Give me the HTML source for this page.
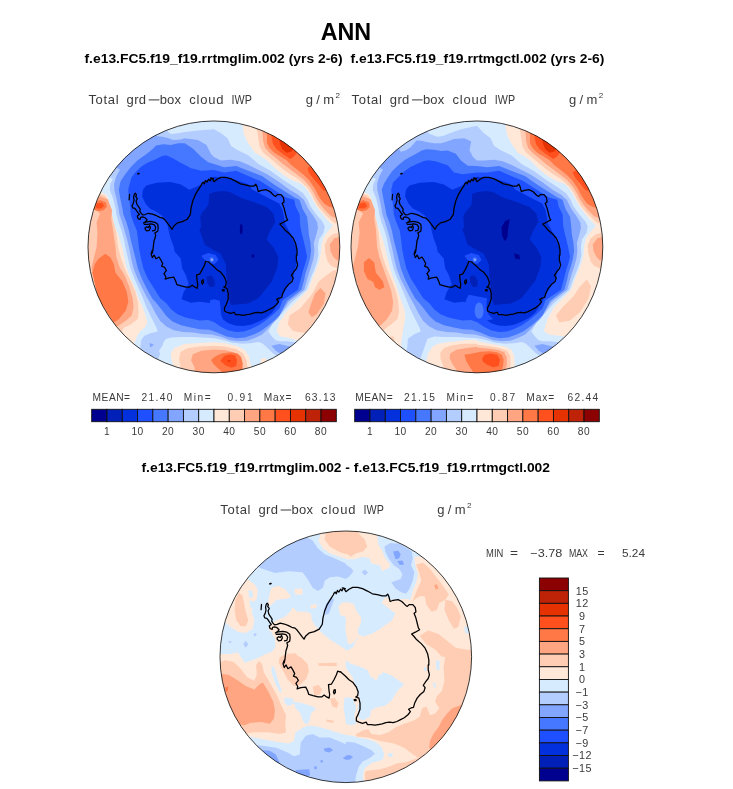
<!DOCTYPE html>
<html><head><meta charset="utf-8"><title>ANN</title>
<style>
html,body{margin:0;padding:0;background:#fff;}
body{width:733px;height:789px;position:relative;overflow:hidden;font-family:"Liberation Sans",sans-serif;}
svg text{font-family:"Liberation Sans",sans-serif;}
</style></head><body>
<svg style="position:absolute;left:86.30px;top:119.30px" width="255.80" height="255.80" viewBox="-5.822 -5.822 744.644 744.644">
<defs><clipPath id="cl"><circle cx="366.5" cy="366.5" r="366.5"/></clipPath></defs>
<g clip-path="url(#cl)">
<rect x="-10" y="-10" width="760" height="760" fill="#D7EBFF"/>
<polygon points="104.5,344.0 97.5,319.0 88.5,294.0 82.5,272.5 80.0,254.0 73.0,225.0 63.0,200.0 65.0,182.5 73.0,168.0 50.0,160.0 100.0,60.0 220.0,15.0 234.0,32.0 241.0,37.5 262.5,36.0 281.5,32.2 320.0,27.5 366.5,24.0 386.5,35.0 406.5,50.0 416.5,72.5 436.5,85.0 466.5,100.0 496.5,125.0 531.5,145.0 566.5,170.0 601.5,192.5 626.5,210.0 639.4,229.1 647.7,249.0 667.6,275.6 682.5,292.2 689.2,307.1 685.8,325.4 672.6,345.3 669.2,368.6 670.9,388.5 665.9,411.7 657.6,435.0 647.7,458.2 636.0,491.1 590.0,530.5 565.5,559.0 541.5,584.0 531.5,601.5 524.8,612.9 535.5,627.0 546.2,638.0 558.0,641.5 576.5,641.5 606.5,644.0 626.5,646.5 606.5,696.5 556.5,686.5 539.0,677.0 528.5,666.5 517.5,655.5 507.0,647.0 496.0,643.0 475.0,647.0 449.8,648.5 421.0,645.5 396.0,638.0 367.5,632.5 332.0,630.5 306.8,628.5 271.0,628.5 242.5,630.5 228.0,634.0 221.0,641.2 217.5,652.0 206.5,670.0 210.0,677.0 200.0,706.5 150.0,686.5 153.0,652.0 155.0,637.5 163.8,625.0 181.5,618.0 203.0,612.5 199.5,602.0 185.2,573.3 171.0,544.5 160.0,516.0 147.5,487.0 135.0,458.5 124.0,430.0 117.0,401.5 110.0,373.0" fill="#B4CDFF" />
<polygon points="113.5,344.0 106.5,319.0 99.0,294.0 91.5,272.5 88.0,250.0 82.5,225.0 76.5,200.0 76.0,182.5 82.5,161.0 93.0,141.5 70.0,130.0 110.0,60.0 175.0,30.0 203.5,45.0 212.5,45.0 230.5,48.5 248.5,55.5 269.5,53.5 281.5,50.0 320.0,55.0 345.0,70.0 357.5,95.0 366.5,105.0 386.5,115.0 416.5,112.5 441.5,117.5 466.5,127.5 496.5,142.5 521.5,155.0 556.5,177.5 586.5,200.0 611.5,215.0 628.4,229.1 641.0,255.7 657.6,278.9 667.6,295.5 669.2,312.1 664.3,332.0 657.6,355.3 659.3,378.5 656.0,401.8 649.3,425.0 642.7,444.9 637.7,461.5 629.4,491.1 584.0,526.5 553.4,573.5 535.5,591.5 519.5,609.2 507.0,621.8 489.0,630.5 464.0,639.5 439.0,641.5 414.0,638.0 389.0,629.0 360.5,621.5 332.0,620.0 306.8,616.0 278.0,614.5 249.5,609.0 228.0,598.5 210.2,582.2 196.0,559.0 183.5,534.0 171.0,512.5 158.0,487.0 144.0,458.5 133.0,430.0 126.0,401.5 120.5,373.0" fill="#82A5FF" />
<polygon points="534.0,654.0 556.5,649.0 586.5,656.5 601.5,666.5 576.5,686.5 546.5,669.0" fill="#82A5FF" />
<polygon points="179.0,646.5 192.5,651.5 181.0,659.0" fill="#82A5FF" />
<polygon points="124.0,344.0 119.0,319.0 111.5,294.0 103.0,272.5 100.0,254.0 94.0,225.5 89.5,200.0 95.0,175.0 109.0,154.0 123.0,136.0 144.5,114.5 169.5,96.5 187.5,82.5 198.0,71.5 219.5,68.0 241.0,70.0 262.5,64.5 281.5,64.5 305.0,80.0 330.0,105.0 350.0,120.0 366.5,125.0 396.5,135.0 431.5,131.0 466.5,145.0 506.5,160.0 541.5,185.0 581.5,210.0 601.5,222.5 615.8,229.1 624.4,255.7 637.7,278.9 641.0,305.5 642.7,328.7 647.7,355.3 649.3,378.5 646.0,401.8 639.4,425.0 632.7,444.9 629.4,461.5 621.1,491.1 579.0,524.0 558.0,564.5 546.2,577.0 525.0,595.0 503.5,611.0 482.0,621.8 457.0,630.5 432.0,632.5 403.5,627.0 378.2,616.5 353.0,608.0 324.5,606.5 299.5,601.5 271.0,594.8 246.0,584.0 228.0,568.0 214.0,548.5 199.5,530.5 186.5,516.0 170.5,487.0 156.5,458.5 145.5,430.0 138.5,401.5 131.5,373.0" fill="#4678FF" />
<polygon points="145.5,344.0 142.0,319.0 131.5,294.0 124.5,272.5 123.0,250.0 119.5,225.0 117.0,200.0 121.5,182.5 126.5,164.5 137.5,150.0 155.5,132.5 173.0,121.5 194.5,112.5 212.5,103.5 227.0,100.0 248.5,109.0 269.5,121.5 281.5,127.0 300.0,137.5 330.0,145.0 366.5,142.5 396.5,150.0 431.5,145.0 466.5,160.0 501.5,175.0 536.5,197.5 576.5,222.5 600.5,229.1 604.5,249.0 616.1,272.3 617.8,305.5 622.7,328.7 629.4,355.3 634.4,378.5 637.7,395.1 632.7,415.0 626.1,435.0 619.4,461.5 611.1,491.1 566.5,521.5 558.0,545.0 539.0,563.0 517.5,580.5 496.0,595.0 475.0,605.5 453.5,613.0 432.0,614.5 407.0,609.2 385.5,598.5 367.5,586.0 349.5,579.0 324.5,580.5 306.5,577.0 281.5,571.5 260.5,562.5 242.5,548.5 228.0,530.5 210.0,516.0 192.0,487.0 174.0,458.5 161.5,430.0 154.5,401.5 149.0,373.0" fill="#1E50FF" />
<polygon points="160.0,200.0 170.0,187.5 200.0,180.0 240.0,177.5 270.0,185.0 295.0,200.0 320.0,190.0 340.0,175.0 366.5,162.5 416.5,167.5 466.5,184.0 479.0,200.0 516.5,220.0 556.5,240.0 566.5,260.0 574.0,300.0 590.0,330.0 606.0,366.5 609.0,366.5 606.5,416.5 596.5,456.5 581.5,481.5 566.5,506.5 554.0,531.5 535.5,559.0 517.5,573.5 496.0,584.2 475.0,593.0 449.8,596.8 428.5,595.0 407.0,588.0 392.5,577.0 381.5,556.5 366.5,531.5 325.0,526.5 300.0,529.0 272.5,519.0 278.0,499.0 293.0,475.0 286.0,451.0 274.0,428.0 270.0,400.0 252.0,380.0 250.0,366.5 240.0,340.0 235.0,320.0 230.0,295.0 215.0,275.0 200.0,265.0 180.0,255.0 167.5,240.0 157.5,220.0" fill="#0030DC" />
<polygon points="355.0,521.7 367.5,519.2 383.6,523.5 385.4,541.3 387.2,562.8 392.6,577.0 381.8,582.5 367.5,582.5 356.8,577.0 355.0,548.5" fill="#1E50FF" />
<polygon points="353.0,212.0 372.0,206.0 396.0,204.0 415.0,207.5 434.0,218.0 448.0,225.0 480.0,235.0 520.0,250.0 540.0,270.0 545.0,295.0 530.0,320.0 520.0,345.0 540.0,368.0 554.0,396.0 551.0,426.0 536.0,466.0 516.0,491.0 496.0,516.0 466.0,531.0 416.0,536.0 411.0,516.0 404.0,466.0 401.0,416.0 386.0,386.0 366.0,376.0 340.0,360.0 329.0,328.0 324.0,316.0 329.0,309.0 328.0,294.0 327.0,278.0 331.5,268.0 341.0,256.0 350.6,244.5 352.0,228.0" fill="#0020B8" />
<polygon points="346.0,452.0 360.0,450.0 369.0,465.0 368.0,482.0 355.0,484.0 347.0,470.0" fill="#0020B8" />
<ellipse cx="446" cy="315" rx="4" ry="15" fill="#00008F"/>
<ellipse cx="480" cy="393" rx="4" ry="5" fill="#00008F"/>
<polygon points="330.0,392.0 350.0,384.0 372.0,390.0 380.0,405.0 368.0,416.0 345.0,412.0" fill="#1E50FF" />
<ellipse cx="360" cy="403" rx="6" ry="6.5" fill="#4678FF"/>
<ellipse cx="361" cy="404" rx="3.5" ry="4" fill="#82A5FF"/>
<polygon points="446.5,-10.0 451.5,22.5 454.0,40.0 466.5,65.0 485.3,92.7 499.6,99.9 521.0,114.2 542.5,135.6 563.9,153.5 585.4,167.8 606.8,178.5 621.3,182.8 635.2,196.7 646.4,213.4 654.7,230.1 665.8,249.5 682.5,271.8 699.2,291.2 713.1,305.1 770.0,306.0 770.0,-20.0" fill="#FFE8D7" />
<polygon points="488.9,17.6 493.2,31.9 496.0,53.4 499.6,74.8 510.3,92.7 528.2,107.0 549.6,124.9 571.1,142.8 592.5,157.0 614.0,171.3 638.0,193.9 649.1,210.6 657.5,227.3 668.6,246.7 685.3,266.2 702.0,282.9 717.2,296.8 738.1,301.0 770.0,200.0 770.0,-30.0" fill="#FFCDB4" />
<polygon points="506.7,24.8 508.5,40.9 510.3,60.5 515.7,78.4 528.2,92.7 546.1,107.0 567.5,124.9 589.0,141.0 610.4,157.0 628.3,171.3 647.8,193.9 657.5,210.6 665.8,227.3 676.9,244.0 690.8,260.6 707.5,277.3 732.5,287.1 770.0,200.0 770.0,-30.0" fill="#FFA582" />
<polygon points="521.0,31.9 521.0,46.2 521.0,64.1 528.2,78.4 542.5,92.7 560.4,103.4 578.2,114.2 592.5,128.5 610.4,142.8 628.3,157.0 642.6,171.3 660.3,196.7 668.6,213.4 676.9,227.3 688.1,241.2 702.0,249.5 727.0,255.1 770.0,150.0 770.0,-30.0" fill="#FF7846" />
<polygon points="533.6,39.1 535.3,53.4 538.9,67.7 549.6,82.0 567.5,96.3 589.0,110.6 599.7,103.4 608.6,90.9 628.3,74.8 578.2,31.9" fill="#FF501E" />
<polygon points="639.0,137.0 643.0,151.0 654.0,165.0 668.0,181.0 679.0,195.0 686.0,203.0 730.0,200.0 690.0,110.0" fill="#FF501E" />
<polygon points="556.8,53.4 558.6,65.9 565.7,82.0 578.2,92.7 592.5,89.1 596.1,82.0 610.4,67.7 578.2,46.2" fill="#E63200" />
<polygon points="763.9,303.8 712.4,305.5 697.5,322.1 685.8,338.7 679.2,361.9 677.5,385.2 672.6,408.4 664.3,431.7 654.3,454.9 641.0,491.1 601.5,531.5 576.5,556.5 556.5,586.5 549.0,611.5 559.0,626.5 586.5,631.5 611.5,639.0 626.5,646.5 746.5,646.5" fill="#FFE8D7" />
<polygon points="763.9,322.1 730.7,325.4 714.1,328.7 697.5,342.0 689.2,361.9 690.8,385.2 697.5,408.4 707.4,421.7 724.0,428.3 763.9,431.7" fill="#FFCDB4" />
<polygon points="763.9,337.0 730.7,338.7 717.4,340.3 704.1,358.6 705.8,378.5 714.1,395.1 724.0,405.1 763.9,408.4" fill="#FFA582" />
<polygon points="746.5,426.5 711.5,436.5 691.0,451.5 671.0,468.0 656.5,496.5 646.5,511.5 616.5,546.5 586.5,566.5 581.5,591.5 596.5,611.5 626.5,616.5 656.5,616.5 746.5,566.5" fill="#FFCDB4" />
<polygon points="676.5,486.5 691.5,501.5 686.5,531.5 666.5,561.5 651.5,571.5 641.5,556.5 651.5,526.5 661.5,501.5" fill="#FFA582" />
<polygon points="366.5,644.0 325.0,646.5 280.0,649.0 250.0,661.5 240.0,679.0 245.0,701.5 250.0,716.5 260.0,746.5 486.5,746.5 479.0,716.5 474.0,711.5 469.0,686.5 456.5,666.5 431.5,654.0 396.5,646.5 366.5,644.0" fill="#FFE8D7" />
<polygon points="366.5,654.0 325.0,656.5 290.0,661.5 270.0,671.5 265.0,691.5 270.0,716.5 275.0,746.5 466.5,746.5 464.0,716.5 461.5,696.5 451.5,676.5 431.5,664.0 396.5,656.5 366.5,654.0" fill="#FFCDB4" />
<polygon points="366.5,665.5 330.0,669.0 305.0,679.0 300.0,696.5 310.0,716.5 315.0,746.5 454.0,746.5 451.5,721.5 451.5,706.5 444.0,686.5 426.5,674.0 396.5,666.5 366.5,665.0" fill="#FFA582" />
<polygon points="358.5,695.0 371.0,684.5 389.0,677.0 414.0,673.5 435.5,677.0 446.0,688.0 449.8,705.8 448.0,720.0 446.5,746.5 396.5,746.5 389.0,729.0 378.2,720.0 364.0,705.8" fill="#FF7846" />
<polygon points="385.4,698.5 396.1,684.3 414.0,679.0 428.3,682.5 433.7,695.0 431.9,712.9 417.6,718.2 399.7,711.0" fill="#FF501E" />
<polygon points="406.5,696.5 414.5,696.5 414.5,700.5 406.5,700.5" fill="#E63200" />
<polygon points="504.0,691.5 516.5,689.0 521.5,701.5 511.5,711.5 501.5,711.5" fill="#FFE8D7" />
<polygon points="-20.0,200.0 37.5,207.5 50.0,212.5 57.5,220.0 61.0,235.0 63.5,247.5 68.5,266.5 73.0,286.0 78.0,305.0 85.0,324.0 92.5,345.0 101.0,373.0 106.5,401.5 113.5,430.0 124.0,458.5 136.5,487.0 147.5,516.0 156.5,535.0 167.5,566.5 172.5,586.5 165.0,601.5 150.0,614.0 142.5,626.5 137.5,641.5 125.0,666.5 -20.0,666.5" fill="#FFE8D7" />
<polygon points="-20.0,205.0 35.0,212.5 50.0,217.5 60.0,235.0 67.5,265.0 75.0,295.0 82.5,325.0 87.5,366.5 95.0,396.5 107.5,431.5 125.0,466.5 137.5,496.5 145.0,526.5 147.5,556.5 145.0,576.5 125.0,591.5 105.0,601.5 90.0,626.5 -20.0,626.5" fill="#FFCDB4" />
<polygon points="10.0,240.0 25.0,225.0 35.0,220.0 57.5,227.5 70.0,260.0 67.5,285.0 72.5,315.0 77.5,350.0 80.0,366.5 82.5,396.5 92.5,426.5 107.5,451.5 120.0,481.5 130.0,516.5 132.5,541.5 127.5,566.5 110.0,581.5 95.0,591.5 80.0,601.5 30.0,516.5 10.0,426.5 20.0,386.5 25.0,366.5 27.5,325.0 25.0,295.0 35.0,270.0 25.0,260.0" fill="#FFA582" />
<polygon points="50.0,386.5 65.0,396.5 75.0,416.5 80.0,441.5 100.0,466.5 112.5,496.5 117.5,526.5 110.0,551.5 90.0,576.5 75.0,586.5 30.0,516.5 12.5,441.5 20.0,416.5 30.0,401.5" fill="#FF7846" />
<polygon points="20.0,237.5 35.0,230.0 52.5,237.5 55.0,250.0 45.0,260.0 30.0,262.5 15.0,257.5" fill="#FF7846" />
<polygon points="25.0,240.0 40.0,237.5 47.5,247.5 37.5,255.0 22.5,254.0" fill="#FF501E" />
<polygon points="137.6,210.2 141.1,215.0 138.8,219.7 143.5,225.7 140.0,232.9 142.3,242.4 147.1,249.5 151.9,256.7 150.7,262.6 154.3,268.6 159.0,273.4 166.2,272.2 175.7,268.6 187.6,271.0 199.5,275.7 209.1,280.5 218.6,282.9 225.7,290.0 232.9,299.6 240.0,309.1 244.8,315.1 249.8,305.6 260.5,296.6 274.8,293.1 289.1,285.9 298.1,271.6 299.9,253.7 305.2,232.2 312.4,214.4 321.3,200.0 330.3,185.7 332.1,181.4 335.6,177.9 338.5,182.9 342.1,173.2 346.4,177.9 351.0,169.6 355.3,174.3 359.2,166.1 365.3,167.9 356.2,166.1 361.5,167.9 366.9,176.8 375.8,169.6 386.6,164.3 400.9,164.3 415.2,167.9 429.5,175.0 443.8,182.9 458.1,185.7 472.4,189.3 483.2,189.3 488.5,183.9 492.1,191.1 495.7,205.4 504.6,201.8 518.9,200.0 529.7,205.4 540.4,216.1 545.8,219.7 551.1,214.4 561.9,214.4 569.0,223.3 570.8,235.8 565.4,239.4 570.8,253.7 574.4,268.0 578.0,282.3 581.5,287.7 569.0,294.8 558.3,300.2 565.4,307.4 572.6,316.3 586.9,328.8 597.6,341.4 604.8,357.5 608.4,375.3 608.4,390.7 606.6,390.4 606.6,404.7 610.2,419.0 606.6,429.8 599.4,438.7 592.3,449.4 597.6,456.6 594.1,467.3 583.3,476.3 574.4,487.0 567.2,501.3 563.7,513.8 556.5,515.6 549.3,519.2 554.7,526.4 547.6,535.3 536.8,544.2 526.1,549.6 515.4,555.0 504.6,558.5 493.9,556.8 483.2,558.5 472.4,562.1 461.7,563.9 451.0,565.7 440.2,563.9 429.5,563.9 425.9,556.8 415.2,560.3 404.5,556.8 397.3,553.2 397.3,544.2 402.7,533.5 408.0,519.2 408.0,501.3 404.5,487.0 395.5,483.4 400.9,479.8 402.7,469.1 397.3,454.8 386.6,440.5 375.8,433.3 365.1,422.6 350.8,410.1 353.5,411.9 342.8,408.3 339.2,419.0 332.1,433.3 324.9,445.9 316.0,447.6 317.7,465.5 319.5,476.3 317.7,487.0 310.6,483.4 303.4,478.1 296.3,483.4 285.5,483.4 271.2,479.8 258.7,476.3 255.1,465.5 249.8,454.8 235.5,456.6 224.7,460.2 226.5,453.0 221.2,444.1 228.3,435.1 222.9,426.2 214.0,422.6 217.6,415.5 212.2,404.7 206.8,395.8 197.9,401.1 192.5,390.4 187.2,397.6 183.6,386.8 187.2,376.1 187.2,384.3 189.0,375.3 190.7,361.0 192.5,346.7 193.6,345.6 197.1,332.9 194.8,325.8 203.1,321.0 204.3,311.5 203.1,300.8 194.8,294.8 182.8,292.4 170.9,293.6 161.4,297.2 168.5,292.4 172.1,287.7 166.2,281.7 159.0,279.3 153.1,280.5 151.9,286.5 145.9,284.1 143.5,276.9 149.5,272.2 144.7,266.2 140.0,259.1 136.4,254.3 130.4,253.1 128.0,247.1 131.6,240.0 134.0,230.5 132.8,220.9 135.2,212.6" fill="none" stroke="#000" stroke-width="3.7" stroke-linejoin="round"/>
<polyline points="120.9,213.8 119.7,229.3" fill="none" stroke="#000" stroke-width="3.7" stroke-linecap="round" stroke-linejoin="round"/>
<ellipse cx="147" cy="153.5" rx="4.2" ry="2.6" fill="#000" transform="rotate(-15 147 153.5)"/>
<polyline points="163.8,300.8 173.3,300.8 182.8,299.6 192.4,301.9 197.1,309.1 194.8,318.6 187.6,319.8" fill="none" stroke="#000" stroke-width="3.7" stroke-linecap="round" stroke-linejoin="round"/>
<polyline points="166.2,311.5 170.9,307.9 175.7,310.3 179.3,304.3 181.7,311.5 178.1,318.6 170.9,319.8 166.6,315.1 166.2,311.5" fill="none" stroke="#000" stroke-width="3.7" stroke-linecap="round" stroke-linejoin="round"/>
<polyline points="332.1,463.7 335.6,462.0 336.3,469.8 332.8,474.5 330.6,469.8 332.1,463.7" fill="none" stroke="#000" stroke-width="3.7" stroke-linecap="round" stroke-linejoin="round"/>
<polyline points="390.9,491.3 395.9,490.6 396.6,494.2 391.6,494.2" fill="none" stroke="#000" stroke-width="3.7" stroke-linecap="round" stroke-linejoin="round"/>
</g>
<circle cx="366.5" cy="366.5" r="366.5" fill="none" stroke="#111" stroke-width="2.4"/>
</svg>
<svg style="position:absolute;left:349.30px;top:119.30px" width="255.80" height="255.80" viewBox="-5.822 -5.822 744.644 744.644">
<defs><clipPath id="cr"><circle cx="366.5" cy="366.5" r="366.5"/></clipPath></defs>
<g clip-path="url(#cr)">
<rect x="-10" y="-10" width="760" height="760" fill="#D7EBFF"/>
<polygon points="104.5,344.0 97.5,319.0 88.5,294.0 82.5,272.5 80.0,254.0 73.0,225.0 63.0,200.0 65.0,182.5 73.0,168.0 50.0,160.0 100.0,60.0 215.0,20.0 226.8,36.5 237.5,41.0 251.8,45.5 269.7,43.0 281.5,38.0 320.0,24.0 366.5,14.0 386.5,35.0 406.5,50.0 416.5,72.5 436.5,85.0 466.5,100.0 496.5,125.0 531.5,145.0 566.5,170.0 601.5,192.5 626.5,210.0 639.4,229.1 647.7,249.0 667.6,275.6 682.5,292.2 689.2,307.1 685.8,325.4 672.6,345.3 669.2,368.6 670.9,388.5 665.9,411.7 657.6,435.0 647.7,458.2 636.0,491.1 590.0,530.5 565.5,559.0 541.5,584.0 531.5,601.5 524.8,612.9 535.5,627.0 546.2,638.0 558.0,641.5 576.5,641.5 606.5,644.0 626.5,646.5 606.5,696.5 556.5,686.5 539.0,677.0 528.5,666.5 517.5,655.5 507.0,647.0 496.0,643.0 475.0,647.0 449.8,648.5 421.0,645.5 396.0,638.0 367.5,632.5 332.0,630.5 306.8,628.5 271.0,628.5 242.5,627.0 222.8,634.0 217.4,648.4 210.2,669.9 200.0,696.5 160.0,681.5 163.8,659.0 165.5,634.0 185.2,619.8 203.0,612.5 199.5,602.0 185.2,573.3 171.0,544.5 160.0,516.0 147.5,487.0 135.0,458.5 124.0,430.0 117.0,401.5 110.0,373.0" fill="#B4CDFF" />
<polygon points="113.5,344.0 106.5,319.0 99.0,294.0 91.5,272.5 88.0,250.0 82.5,225.0 76.5,200.0 76.0,182.5 82.5,161.0 93.0,141.5 70.0,130.0 115.0,85.0 141.0,82.3 144.5,89.5 159.0,86.0 173.0,77.0 184.0,64.5 191.0,56.5 205.5,57.2 219.5,60.9 241.0,64.5 262.5,64.5 281.5,59.0 300.0,52.5 330.0,50.0 350.0,60.0 345.0,85.0 355.0,105.0 366.5,115.0 386.5,115.0 416.5,112.5 441.5,117.5 466.5,127.5 496.5,142.5 521.5,155.0 556.5,177.5 586.5,200.0 611.5,215.0 628.4,229.1 641.0,255.7 657.6,278.9 667.6,295.5 669.2,312.1 664.3,332.0 657.6,355.3 659.3,378.5 656.0,401.8 649.3,425.0 642.7,444.9 637.7,461.5 629.4,491.1 584.0,526.5 553.4,573.5 535.5,591.5 519.5,609.2 507.0,621.8 489.0,630.5 464.0,639.5 439.0,641.5 414.0,638.0 389.0,629.0 360.5,621.5 332.0,620.0 306.8,616.0 278.0,614.5 249.5,609.0 228.0,598.5 210.2,582.2 196.0,559.0 183.5,534.0 171.0,512.5 158.0,487.0 144.0,458.5 133.0,430.0 126.0,401.5 120.5,373.0" fill="#82A5FF" />
<polygon points="534.0,654.0 556.5,649.0 586.5,656.5 601.5,666.5 576.5,686.5 546.5,669.0" fill="#82A5FF" />
<polygon points="124.0,344.0 119.0,319.0 111.5,294.0 103.0,272.5 100.0,254.0 94.0,225.5 89.5,200.0 96.0,182.5 107.0,164.5 119.5,146.5 137.5,128.8 155.5,114.5 173.0,103.8 191.0,94.8 205.5,85.8 219.5,82.3 241.0,84.0 262.5,87.5 281.5,85.8 305.0,95.0 320.0,115.0 340.0,130.0 366.5,131.0 396.5,135.0 431.5,131.0 466.5,145.0 506.5,160.0 541.5,185.0 581.5,210.0 601.5,222.5 615.8,229.1 624.4,255.7 637.7,278.9 641.0,305.5 642.7,328.7 647.7,355.3 649.3,378.5 646.0,401.8 639.4,425.0 632.7,444.9 629.4,461.5 621.1,491.1 579.0,524.0 558.0,564.5 546.2,577.0 525.0,595.0 503.5,611.0 482.0,621.8 457.0,630.5 432.0,632.5 403.5,627.0 378.2,616.5 353.0,608.0 324.5,606.5 299.5,601.5 271.0,594.8 246.0,584.0 228.0,568.0 214.0,548.5 199.5,530.5 186.5,516.0 170.5,487.0 156.5,458.5 145.5,430.0 138.5,401.5 131.5,373.0" fill="#4678FF" />
<polygon points="145.5,344.0 142.0,319.0 131.5,294.0 124.5,272.5 123.0,250.0 119.5,225.0 117.0,200.0 122.5,178.8 141.0,161.0 155.5,146.5 173.0,134.0 194.5,123.5 212.5,116.2 226.8,114.5 248.2,118.0 269.5,125.0 281.5,128.8 300.0,150.0 325.0,155.0 366.5,150.0 396.5,150.0 431.5,145.0 466.5,160.0 501.5,175.0 536.5,197.5 576.5,222.5 600.5,229.1 604.5,249.0 616.1,272.3 617.8,305.5 622.7,328.7 629.4,355.3 634.4,378.5 637.7,395.1 632.7,415.0 626.1,435.0 619.4,461.5 611.1,491.1 566.5,521.5 558.0,545.0 539.0,563.0 517.5,580.5 496.0,595.0 475.0,605.5 453.5,613.0 432.0,614.5 407.0,609.2 385.5,598.5 367.5,586.0 349.5,579.0 324.5,580.5 306.5,577.0 281.5,571.5 260.5,562.5 242.5,548.5 228.0,530.5 210.0,516.0 192.0,487.0 174.0,458.5 161.5,430.0 154.5,401.5 149.0,373.0" fill="#1E50FF" />
<polygon points="160.0,200.0 170.0,187.5 200.0,180.0 240.0,177.5 270.0,185.0 295.0,200.0 320.0,190.0 340.0,175.0 366.5,162.5 416.5,167.5 466.5,184.0 479.0,200.0 516.5,220.0 556.5,240.0 566.5,260.0 574.0,300.0 590.0,330.0 606.0,366.5 609.0,366.5 606.5,416.5 596.5,456.5 581.5,481.5 566.5,506.5 554.0,531.5 535.5,559.0 517.5,573.5 496.0,584.2 475.0,593.0 449.8,596.8 428.5,595.0 407.0,588.0 392.5,577.0 381.5,556.5 366.5,531.5 325.0,526.5 300.0,529.0 272.5,519.0 278.0,499.0 293.0,475.0 286.0,451.0 274.0,428.0 270.0,400.0 252.0,380.0 250.0,366.5 240.0,340.0 235.0,320.0 230.0,295.0 215.0,275.0 200.0,265.0 180.0,255.0 167.5,240.0 157.5,220.0" fill="#0030DC" />
<polygon points="355.0,521.7 367.5,519.2 383.6,523.5 385.4,541.3 387.2,562.8 392.6,577.0 381.8,582.5 367.5,582.5 356.8,577.0 355.0,548.5" fill="#1E50FF" />
<polygon points="353.0,212.0 372.0,206.0 396.0,204.0 415.0,207.5 434.0,218.0 448.0,225.0 480.0,235.0 520.0,250.0 540.0,270.0 545.0,295.0 530.0,320.0 520.0,345.0 540.0,368.0 554.0,396.0 551.0,426.0 536.0,466.0 516.0,491.0 496.0,516.0 466.0,531.0 416.0,536.0 411.0,516.0 404.0,466.0 401.0,416.0 386.0,386.0 366.0,376.0 340.0,360.0 329.0,328.0 324.0,316.0 329.0,309.0 328.0,294.0 327.0,278.0 331.5,268.0 341.0,256.0 350.6,244.5 352.0,228.0" fill="#0020B8" />
<polygon points="346.0,452.0 360.0,450.0 369.0,465.0 368.0,482.0 355.0,484.0 347.0,470.0" fill="#0020B8" />
<polygon points="440.0,335.0 438.0,310.0 448.0,292.0 462.0,285.0 458.0,310.0 455.0,340.0 448.0,350.0" fill="#00008F" />
<polygon points="475.0,385.0 490.0,390.0 492.0,403.0 478.0,400.0" fill="#00008F" />
<polygon points="330.0,392.0 350.0,384.0 372.0,390.0 380.0,405.0 368.0,416.0 345.0,412.0" fill="#1E50FF" />
<ellipse cx="360" cy="403" rx="6" ry="6.5" fill="#4678FF"/>
<ellipse cx="361" cy="404" rx="3.5" ry="4" fill="#82A5FF"/>
<polygon points="335.4,519.9 342.5,505.6 396.1,516.3 394.3,541.3 399.7,562.8 414.0,577.0 381.8,582.5 356.8,577.0 338.9,562.8 331.8,536.0" fill="#1E50FF" />
<ellipse cx="372.9" cy="552" rx="13" ry="24" fill="#4678FF"/>
<polygon points="446.5,-10.0 451.5,22.5 454.0,40.0 466.5,65.0 485.3,92.7 499.6,99.9 521.0,114.2 542.5,135.6 563.9,153.5 585.4,167.8 606.8,178.5 621.3,182.8 635.2,196.7 646.4,213.4 654.7,230.1 665.8,249.5 682.5,271.8 699.2,291.2 713.1,305.1 770.0,306.0 770.0,-20.0" fill="#FFE8D7" />
<polygon points="488.9,17.6 493.2,31.9 496.0,53.4 499.6,74.8 510.3,92.7 528.2,107.0 549.6,124.9 571.1,142.8 592.5,157.0 614.0,171.3 638.0,193.9 649.1,210.6 657.5,227.3 668.6,246.7 685.3,266.2 702.0,282.9 717.2,296.8 738.1,301.0 770.0,200.0 770.0,-30.0" fill="#FFCDB4" />
<polygon points="506.7,24.8 508.5,40.9 510.3,60.5 515.7,78.4 528.2,92.7 546.1,107.0 567.5,124.9 589.0,141.0 610.4,157.0 628.3,171.3 647.8,193.9 657.5,210.6 665.8,227.3 676.9,244.0 690.8,260.6 707.5,277.3 732.5,287.1 770.0,200.0 770.0,-30.0" fill="#FFA582" />
<polygon points="521.0,31.9 521.0,46.2 521.0,64.1 528.2,78.4 542.5,92.7 560.4,103.4 578.2,114.2 592.5,128.5 610.4,142.8 628.3,157.0 642.6,171.3 660.3,196.7 668.6,213.4 676.9,227.3 688.1,241.2 702.0,249.5 727.0,255.1 770.0,150.0 770.0,-30.0" fill="#FF7846" />
<polygon points="533.6,39.1 535.3,53.4 538.9,67.7 549.6,82.0 567.5,96.3 589.0,110.6 599.7,103.4 608.6,90.9 628.3,74.8 578.2,31.9" fill="#FF501E" />
<polygon points="645.0,150.0 654.0,167.0 668.0,183.0 679.0,197.0 686.0,203.0 730.0,200.0 690.0,120.0" fill="#FF501E" />
<polygon points="556.8,53.4 558.6,65.9 565.7,82.0 578.2,92.7 592.5,89.1 596.1,82.0 610.4,67.7 578.2,46.2" fill="#E63200" />
<polygon points="763.9,303.8 712.4,305.5 697.5,322.1 685.8,338.7 679.2,361.9 677.5,385.2 672.6,408.4 664.3,431.7 654.3,454.9 641.0,491.1 591.5,541.5 571.5,576.5 561.5,611.5 576.5,621.5 616.5,626.5 636.5,629.0 746.5,646.5" fill="#FFE8D7" />
<polygon points="763.9,322.1 730.7,325.4 714.1,328.7 697.5,342.0 689.2,361.9 690.8,385.2 697.5,408.4 707.4,421.7 724.0,428.3 763.9,431.7" fill="#FFCDB4" />
<polygon points="763.9,337.0 730.7,338.7 717.4,340.3 704.1,358.6 705.8,378.5 714.1,395.1 724.0,405.1 763.9,408.4" fill="#FFA582" />
<polygon points="686.5,461.5 699.0,481.5 691.5,516.5 666.5,556.5 636.5,581.5 606.5,586.5 596.5,566.5 616.5,541.5 646.5,511.5 666.5,481.5" fill="#FFCDB4" />
<polygon points="366.5,637.8 331.8,637.9 321.0,639.5 285.3,643.0 253.0,648.4 235.3,659.0 224.5,677.0 221.0,691.2 217.5,702.0 220.0,746.5 486.5,746.5 474.8,716.5 476.5,705.8 474.8,684.3 467.6,666.5 449.8,657.5 424.8,652.1 396.1,646.8 367.5,641.5" fill="#FFE8D7" />
<polygon points="366.5,648.5 331.8,648.5 324.5,648.4 292.5,653.8 271.0,660.9 260.3,673.4 260.3,691.2 267.5,709.0 275.0,746.5 466.5,746.5 462.2,720.0 464.0,709.4 464.0,684.3 453.4,668.2 431.9,661.0 403.3,655.8 367.5,651.5" fill="#FFCDB4" />
<polygon points="366.5,657.5 335.5,660.9 306.8,666.2 288.9,677.0 287.0,691.2 296.0,709.0 306.8,723.5 315.0,746.5 454.0,746.5 449.8,723.5 453.4,709.4 453.4,687.9 446.2,673.5 428.3,666.5 403.3,662.9 367.5,659.3" fill="#FFA582" />
<polygon points="330.0,680.8 349.6,677.2 378.2,671.8 403.3,670.0 424.8,673.5 439.0,680.8 444.4,695.0 442.6,712.9 439.0,723.5 436.5,746.5 360.0,746.5 353.2,727.2 346.0,716.5 335.4,698.5" fill="#FF7846" />
<polygon points="381.9,691.5 389.0,680.8 406.9,676.5 424.8,680.8 433.7,695.0 430.1,712.9 414.0,716.5 396.1,709.4 383.6,700.4" fill="#FF501E" />
<polygon points="-20.0,200.0 37.5,207.5 50.0,212.5 57.5,220.0 61.0,235.0 63.5,247.5 68.5,266.5 73.0,286.0 78.0,305.0 85.0,324.0 92.5,345.0 100.0,373.0 105.0,396.5 116.0,436.5 131.0,476.5 144.0,516.5 155.0,546.5 158.5,573.5 153.0,598.5 149.5,623.5 146.0,645.0 146.0,666.5 125.0,686.5 -20.0,666.5" fill="#FFE8D7" />
<polygon points="-20.0,205.0 35.0,212.5 50.0,217.5 60.0,235.0 67.5,265.0 75.0,295.0 80.0,325.0 85.0,366.5 92.5,396.5 105.0,431.5 120.0,466.5 131.0,496.5 137.5,526.5 140.0,556.5 135.0,576.5 117.5,591.5 100.0,604.0 85.0,626.5 -20.0,626.5" fill="#FFCDB4" />
<polygon points="112.5,629.0 122.5,626.5 127.5,639.0 117.5,646.5" fill="#FFCDB4" />
<polygon points="10.0,240.0 25.0,225.0 35.0,220.0 57.5,227.5 70.0,260.0 67.5,285.0 72.5,315.0 75.0,350.0 76.0,366.5 82.5,396.5 95.0,431.5 107.5,466.5 117.5,496.5 122.5,526.5 120.0,551.5 105.0,576.5 90.0,591.5 75.0,601.5 30.0,516.5 5.0,426.5 15.0,386.5 20.0,366.5 25.0,325.0 22.5,295.0 35.0,270.0 25.0,260.0" fill="#FFA582" />
<polygon points="37.5,411.5 52.5,399.0 67.5,411.5 72.5,441.5 92.5,466.5 97.5,484.0 82.5,491.5 70.0,484.0 65.0,469.0 47.5,459.0 37.5,436.5" fill="#FF7846" />
<polygon points="20.0,237.5 35.0,230.0 52.5,237.5 55.0,250.0 45.0,260.0 30.0,262.5 15.0,257.5" fill="#FF7846" />
<polygon points="25.0,240.0 40.0,237.5 47.5,247.5 37.5,255.0 22.5,254.0" fill="#FF501E" />
<polygon points="137.6,210.2 141.1,215.0 138.8,219.7 143.5,225.7 140.0,232.9 142.3,242.4 147.1,249.5 151.9,256.7 150.7,262.6 154.3,268.6 159.0,273.4 166.2,272.2 175.7,268.6 187.6,271.0 199.5,275.7 209.1,280.5 218.6,282.9 225.7,290.0 232.9,299.6 240.0,309.1 244.8,315.1 249.8,305.6 260.5,296.6 274.8,293.1 289.1,285.9 298.1,271.6 299.9,253.7 305.2,232.2 312.4,214.4 321.3,200.0 330.3,185.7 332.1,181.4 335.6,177.9 338.5,182.9 342.1,173.2 346.4,177.9 351.0,169.6 355.3,174.3 359.2,166.1 365.3,167.9 356.2,166.1 361.5,167.9 366.9,176.8 375.8,169.6 386.6,164.3 400.9,164.3 415.2,167.9 429.5,175.0 443.8,182.9 458.1,185.7 472.4,189.3 483.2,189.3 488.5,183.9 492.1,191.1 495.7,205.4 504.6,201.8 518.9,200.0 529.7,205.4 540.4,216.1 545.8,219.7 551.1,214.4 561.9,214.4 569.0,223.3 570.8,235.8 565.4,239.4 570.8,253.7 574.4,268.0 578.0,282.3 581.5,287.7 569.0,294.8 558.3,300.2 565.4,307.4 572.6,316.3 586.9,328.8 597.6,341.4 604.8,357.5 608.4,375.3 608.4,390.7 606.6,390.4 606.6,404.7 610.2,419.0 606.6,429.8 599.4,438.7 592.3,449.4 597.6,456.6 594.1,467.3 583.3,476.3 574.4,487.0 567.2,501.3 563.7,513.8 556.5,515.6 549.3,519.2 554.7,526.4 547.6,535.3 536.8,544.2 526.1,549.6 515.4,555.0 504.6,558.5 493.9,556.8 483.2,558.5 472.4,562.1 461.7,563.9 451.0,565.7 440.2,563.9 429.5,563.9 425.9,556.8 415.2,560.3 404.5,556.8 397.3,553.2 397.3,544.2 402.7,533.5 408.0,519.2 408.0,501.3 404.5,487.0 395.5,483.4 400.9,479.8 402.7,469.1 397.3,454.8 386.6,440.5 375.8,433.3 365.1,422.6 350.8,410.1 353.5,411.9 342.8,408.3 339.2,419.0 332.1,433.3 324.9,445.9 316.0,447.6 317.7,465.5 319.5,476.3 317.7,487.0 310.6,483.4 303.4,478.1 296.3,483.4 285.5,483.4 271.2,479.8 258.7,476.3 255.1,465.5 249.8,454.8 235.5,456.6 224.7,460.2 226.5,453.0 221.2,444.1 228.3,435.1 222.9,426.2 214.0,422.6 217.6,415.5 212.2,404.7 206.8,395.8 197.9,401.1 192.5,390.4 187.2,397.6 183.6,386.8 187.2,376.1 187.2,384.3 189.0,375.3 190.7,361.0 192.5,346.7 193.6,345.6 197.1,332.9 194.8,325.8 203.1,321.0 204.3,311.5 203.1,300.8 194.8,294.8 182.8,292.4 170.9,293.6 161.4,297.2 168.5,292.4 172.1,287.7 166.2,281.7 159.0,279.3 153.1,280.5 151.9,286.5 145.9,284.1 143.5,276.9 149.5,272.2 144.7,266.2 140.0,259.1 136.4,254.3 130.4,253.1 128.0,247.1 131.6,240.0 134.0,230.5 132.8,220.9 135.2,212.6" fill="none" stroke="#000" stroke-width="3.7" stroke-linejoin="round"/>
<polyline points="120.9,213.8 119.7,229.3" fill="none" stroke="#000" stroke-width="3.7" stroke-linecap="round" stroke-linejoin="round"/>
<ellipse cx="147" cy="153.5" rx="4.2" ry="2.6" fill="#000" transform="rotate(-15 147 153.5)"/>
<polyline points="163.8,300.8 173.3,300.8 182.8,299.6 192.4,301.9 197.1,309.1 194.8,318.6 187.6,319.8" fill="none" stroke="#000" stroke-width="3.7" stroke-linecap="round" stroke-linejoin="round"/>
<polyline points="166.2,311.5 170.9,307.9 175.7,310.3 179.3,304.3 181.7,311.5 178.1,318.6 170.9,319.8 166.6,315.1 166.2,311.5" fill="none" stroke="#000" stroke-width="3.7" stroke-linecap="round" stroke-linejoin="round"/>
<polyline points="332.1,463.7 335.6,462.0 336.3,469.8 332.8,474.5 330.6,469.8 332.1,463.7" fill="none" stroke="#000" stroke-width="3.7" stroke-linecap="round" stroke-linejoin="round"/>
<polyline points="390.9,491.3 395.9,490.6 396.6,494.2 391.6,494.2" fill="none" stroke="#000" stroke-width="3.7" stroke-linecap="round" stroke-linejoin="round"/>
</g>
<circle cx="366.5" cy="366.5" r="366.5" fill="none" stroke="#111" stroke-width="2.4"/>
</svg>
<svg style="position:absolute;left:217.60px;top:528.90px" width="255.60" height="255.60" viewBox="-5.827 -5.827 744.653 744.653">
<defs><clipPath id="cb"><circle cx="366.5" cy="366.5" r="366.5"/></clipPath></defs>
<g clip-path="url(#cb)">
<rect x="-10" y="-10" width="760" height="760" fill="#D7EBFF"/>
<polygon points="60.0,125.0 82.5,142.5 100.0,155.0 110.0,170.0 107.5,195.0 97.5,210.0 92.5,235.0 100.0,260.0 95.0,285.0 75.0,297.5 55.0,295.0 30.0,280.0 10.0,260.0 0.0,200.0" fill="#FFE8D7" />
<polygon points="82.5,172.5 95.0,175.0 96.0,192.5 85.0,195.0" fill="#D7EBFF" />
<polygon points="86.0,202.5 99.0,205.0 100.0,225.0 89.0,224.0" fill="#D7EBFF" />
<polygon points="150.0,165.0 170.0,160.0 190.0,170.0 207.5,192.5 195.0,197.5 165.0,200.0 150.0,215.0 140.0,220.0 142.5,190.0" fill="#FFE8D7" />
<polygon points="216.0,169.0 239.0,167.5 241.0,184.0 220.0,186.0" fill="#FFE8D7" />
<polygon points="262.5,216.0 282.5,212.5 280.0,224.0 265.0,226.0" fill="#FFE8D7" />
<polygon points="295.0,-5.0 287.5,30.0 300.0,50.0 320.0,65.0 350.0,75.0 366.5,80.0 366.5,82.5 391.5,82.5 416.5,75.0 436.5,80.0 441.5,95.0 466.5,100.0 471.5,117.5 491.5,107.5 496.5,100.0 479.0,75.0 471.5,55.0 461.5,40.0 459.0,20.0 456.5,-5.0" fill="#FFE8D7" />
<polygon points="-10.0,358.5 30.0,358.5 51.5,353.5 62.0,369.5 72.5,383.5 94.0,376.5 112.0,369.5 133.5,358.5 151.5,351.5 162.0,337.0 160.5,316.0 151.5,298.0 140.5,283.5 145.0,272.5 165.0,260.0 190.0,250.0 205.0,235.0 212.5,222.5 225.0,235.0 250.0,235.0 265.0,240.0 267.5,260.0 280.0,280.0 300.0,300.0 325.0,320.0 350.0,335.0 366.5,345.0 366.5,396.5 371.5,406.5 386.5,426.5 396.5,456.5 406.5,486.5 401.5,516.5 404.0,546.5 416.5,551.5 436.5,541.5 441.5,521.5 456.5,514.0 481.5,509.0 501.5,491.5 516.5,466.5 536.5,446.5 521.5,436.5 501.5,421.5 476.5,411.5 461.5,421.5 456.5,436.5 436.5,421.5 431.5,406.5 411.5,396.5 381.5,386.5 366.5,376.5 366.5,350.0 386.5,340.0 401.5,310.0 401.5,270.0 411.5,250.0 396.5,220.0 386.5,207.5 366.5,210.0 366.5,250.0 350.0,245.0 345.0,220.0 355.0,210.0 366.5,207.5 386.5,207.5 396.5,220.0 411.5,250.0 401.5,270.0 401.5,300.0 416.5,307.5 441.5,300.0 466.5,285.0 501.5,260.0 511.5,240.0 491.5,225.0 471.5,210.0 481.5,192.5 496.5,200.0 516.5,200.0 541.5,197.5 554.0,200.0 561.5,175.0 571.5,150.0 576.5,125.0 569.0,100.0 566.5,75.0 746.5,75.0 746.5,366.5 746.5,366.5 746.5,746.5 419.0,746.5 416.5,711.5 421.5,691.5 441.5,676.5 474.0,666.5 479.0,651.5 471.5,631.5 456.5,616.5 431.5,606.5 401.5,601.5 386.5,596.5 366.5,594.0 366.5,594.0 340.0,586.5 310.0,576.5 280.0,569.0 255.0,566.5 235.0,576.5 220.0,586.5 215.0,611.5 200.0,619.0 165.0,614.0 125.0,606.5 85.0,599.0 -10.0,586.5" fill="#FFE8D7" />
<polygon points="346.0,225.0 350.0,212.0 372.0,209.0 390.0,212.6 397.0,232.0 411.6,253.7 409.8,271.6 401.0,286.0 402.7,303.8 393.7,321.7 380.0,330.0 372.0,326.0 368.7,307.0 365.0,286.0 367.0,264.0 365.0,246.6 353.0,243.0" fill="#FFE8D7" />
<polygon points="366.5,484.0 386.5,486.5 396.5,511.5 391.5,541.5 396.5,561.5 381.5,566.5 366.5,561.5 366.5,556.5 360.0,516.5 362.5,486.5" fill="#D7EBFF" />
<polygon points="187.5,484.0 212.5,489.0 215.0,504.0 197.5,509.0 187.5,499.0" fill="#D7EBFF" />
<polygon points="215.0,496.5 240.0,501.5 265.0,509.0 280.0,516.5 265.0,531.5 260.0,556.5 250.0,564.0 240.0,551.5 235.0,531.5 220.0,516.5" fill="#D7EBFF" />
<polygon points="150.0,394.0 157.5,396.5 170.0,436.5 180.0,466.5 175.0,471.5 160.0,441.5 150.0,411.5" fill="#D7EBFF" />
<polygon points="489.0,646.5 504.0,647.5 501.5,659.0 490.5,657.5" fill="#D7EBFF" />
<polygon points="629.0,376.5 640.5,379.0 639.0,406.5 630.5,404.0" fill="#D7EBFF" />
<polygon points="621.5,441.5 629.0,442.5 627.5,456.5 622.5,455.5" fill="#D7EBFF" />
<polygon points="711.5,277.5 722.5,280.0 724.0,300.0 714.0,297.5" fill="#D7EBFF" />
<polygon points="594.0,396.5 601.5,397.5 600.5,409.0 594.5,407.5" fill="#D7EBFF" />
<polygon points="75.0,75.0 117.5,107.5 130.0,112.5 160.0,122.5 200.0,117.5 240.0,120.0 255.0,140.0 270.0,165.0 285.0,175.0 300.0,165.0 305.0,145.0 320.0,135.0 345.0,132.5 366.5,140.0 366.5,140.0 376.5,132.5 389.0,117.5 381.5,107.5 366.5,97.5 366.5,95.0 335.0,80.0 305.0,67.5 285.0,50.0 270.0,27.5 200.0,-10.0" fill="#B4CDFF" />
<polygon points="325.0,192.5 332.5,200.0 325.0,220.0 317.5,240.0 307.5,245.0 302.5,230.0 310.0,210.0" fill="#B4CDFF" />
<polygon points="75.0,320.0 82.5,330.0 75.0,340.0 67.5,330.0" fill="#B4CDFF" />
<polygon points="100.0,297.5 107.5,300.0 102.5,307.5 97.5,304.0" fill="#B4CDFF" />
<polygon points="22.5,320.0 35.0,322.5 30.0,327.5" fill="#B4CDFF" />
<polygon points="412.5,120.0 421.5,112.5 431.5,121.0 422.5,130.0" fill="#B4CDFF" />
<polygon points="479.0,45.0 496.5,35.0 521.5,37.5 541.5,47.5 559.0,60.0 561.5,80.0 556.5,100.0 566.5,120.0 561.5,145.0 551.5,170.0 541.5,182.5 526.5,177.5 511.5,167.5 499.0,150.0 511.5,145.0 526.5,140.0 531.5,125.0 521.5,110.0 506.5,100.0 491.5,80.0 481.5,60.0" fill="#B4CDFF" />
<polygon points="504.0,60.0 519.0,57.5 526.5,67.5 521.5,80.0 511.5,82.5" fill="#82A5FF" />
<polygon points="516.5,87.5 531.5,86.0 536.5,97.5 524.0,99.0" fill="#82A5FF" />
<polygon points="75.0,646.5 107.5,624.0 130.0,626.5 165.0,631.5 200.0,646.5 215.0,656.5 232.5,651.5 235.0,616.5 250.0,596.5 270.0,591.5 290.0,601.5 320.0,601.5 345.0,611.5 366.5,621.5 366.5,614.0 391.5,616.5 416.5,626.5 441.5,639.0 451.5,649.0 436.5,661.5 416.5,671.5 404.0,686.5 396.5,711.5 391.5,746.5 100.0,746.5" fill="#B4CDFF" />
<polygon points="115.0,646.5 122.5,639.0 145.0,640.5 162.5,651.5 170.0,666.5 175.0,679.0 160.0,696.5" fill="#82A5FF" />
<polygon points="302.5,634.0 320.0,630.5 330.0,639.0 317.5,645.5 305.0,641.5" fill="#82A5FF" />
<polygon points="292.5,669.0 299.0,666.5 300.0,674.0 294.0,675.5" fill="#82A5FF" />
<polygon points="274.0,686.5 281.0,684.5 282.5,692.5 275.0,694.0" fill="#82A5FF" />
<polygon points="220.0,696.5 260.0,694.0 262.5,711.5 250.0,716.5 222.5,706.5" fill="#82A5FF" />
<polygon points="366.5,654.0 379.0,652.5 387.5,659.0 376.5,666.5 366.5,666.5 366.5,666.5 357.5,661.5 366.5,656.5" fill="#82A5FF" />
<polygon points="55.0,180.0 65.0,187.5 70.0,210.0 75.0,235.0 82.5,260.0 75.0,277.5 60.0,277.5 47.5,260.0 42.5,230.0 45.0,200.0" fill="#FFCDB4" />
<polygon points="310.0,-5.0 305.0,25.0 320.0,45.0 345.0,60.0 366.5,67.5 366.5,65.0 381.5,75.0 396.5,65.0 416.5,60.0 429.0,45.0 421.5,25.0 406.5,10.0 396.5,-5.0" fill="#FFCDB4" />
<polygon points="571.5,97.5 591.5,92.5 611.5,110.0 626.5,130.0 646.5,155.0 666.5,185.0 656.5,200.0 639.0,210.0 631.5,230.0 616.5,235.0 601.5,215.0 596.5,190.0 581.5,190.0 566.5,200.0 559.0,210.0 576.5,165.0 586.5,145.0 581.5,125.0" fill="#FFCDB4" />
<polygon points="624.0,157.5 631.5,155.0 636.5,167.5 629.0,171.0" fill="#FFA582" />
<polygon points="656.5,200.0 676.5,205.0 691.5,225.0 701.5,250.0 694.0,280.0 681.5,285.0 666.5,260.0 654.0,230.0" fill="#FFCDB4" />
<polygon points="581.5,305.0 606.5,290.0 636.5,300.0 661.5,320.0 686.5,340.0 716.5,345.0 746.5,350.0 746.5,366.5 746.5,366.5 656.5,366.5 651.5,396.5 654.0,436.5 646.5,466.5 631.5,481.5 626.5,496.5 639.0,516.5 626.5,531.5 611.5,536.5 601.5,511.5 589.0,516.5 581.5,541.5 566.5,551.5 536.5,561.5 511.5,571.5 491.5,586.5 466.5,594.0 441.5,591.5 431.5,576.5 416.5,581.5 396.5,591.5 396.5,599.0 431.5,601.5 466.5,611.5 506.5,619.0 536.5,631.5 566.5,654.0 586.5,666.5 746.5,666.5 746.5,366.5 646.5,366.5 626.5,345.0 601.5,330.0" fill="#FFCDB4" />
<polygon points="424.0,699.0 466.5,694.0 491.5,686.5 516.5,676.5 541.5,674.0 576.5,661.5 586.5,746.5 426.5,746.5 421.5,711.5" fill="#FFCDB4" />
<polygon points="-10.0,386.5 15.0,376.5 40.0,381.5 60.0,401.5 80.0,426.5 100.0,436.5 107.5,416.5 105.0,391.5 112.5,379.0 122.5,386.5 127.5,411.5 145.0,441.5 165.0,476.5 180.0,511.5 192.5,536.5 190.0,566.5 192.5,586.5 175.0,591.5 140.0,586.5 100.0,586.5 80.0,589.0 50.0,601.5 -10.0,516.5" fill="#FFCDB4" />
<polygon points="-10.0,414.0 5.0,416.5 25.0,419.0 50.0,434.0 75.0,451.5 100.0,461.5 115.0,446.5 125.0,441.5 140.0,466.5 155.0,496.5 160.0,521.5 157.5,546.5 145.0,561.5 120.0,556.5 90.0,559.0 70.0,566.5 55.0,561.5 -10.0,516.5" fill="#FFA582" />
<polygon points="16.0,455.5 24.0,454.0 22.5,466.5 16.5,469.0" fill="#FF7846" />
<polygon points="172.9,369.4 187.2,360.5 215.8,358.7 237.3,369.4 255.2,387.3 258.8,408.8 251.6,430.3 233.7,448.1 215.8,451.7 198.0,433.8 180.0,401.6 171.1,383.7" fill="#FFCDB4" />
<polygon points="190.0,366.5 200.0,357.5 220.0,356.0 227.5,366.5" fill="#FFCDB4" />
<polygon points="270.0,454.0 287.5,449.0 297.5,461.5 290.0,476.5 275.0,479.0" fill="#FFCDB4" />
<polygon points="285.0,385.5 340.0,384.0 340.0,394.0 287.5,392.5" fill="#FFCDB4" />
<polygon points="320.0,489.0 335.0,486.5 345.0,501.5 340.0,516.5 327.5,511.5" fill="#FFCDB4" />
<polygon points="310.0,549.0 332.5,552.5 330.0,559.0 311.0,555.5" fill="#FFCDB4" />
<polygon points="716.5,501.5 696.5,509.0 676.5,516.5 661.5,531.5 646.5,551.5 636.5,571.5 621.5,591.5 611.5,611.5 609.0,631.5 626.5,646.5 746.5,516.5" fill="#FFA582" />
<polygon points="137.6,210.2 141.1,215.0 138.8,219.7 143.5,225.7 140.0,232.9 142.3,242.4 147.1,249.5 151.9,256.7 150.7,262.6 154.3,268.6 159.0,273.4 166.2,272.2 175.7,268.6 187.6,271.0 199.5,275.7 209.1,280.5 218.6,282.9 225.7,290.0 232.9,299.6 240.0,309.1 244.8,315.1 249.8,305.6 260.5,296.6 274.8,293.1 289.1,285.9 298.1,271.6 299.9,253.7 305.2,232.2 312.4,214.4 321.3,200.0 330.3,185.7 332.1,181.4 335.6,177.9 338.5,182.9 342.1,173.2 346.4,177.9 351.0,169.6 355.3,174.3 359.2,166.1 365.3,167.9 356.2,166.1 361.5,167.9 366.9,176.8 375.8,169.6 386.6,164.3 400.9,164.3 415.2,167.9 429.5,175.0 443.8,182.9 458.1,185.7 472.4,189.3 483.2,189.3 488.5,183.9 492.1,191.1 495.7,205.4 504.6,201.8 518.9,200.0 529.7,205.4 540.4,216.1 545.8,219.7 551.1,214.4 561.9,214.4 569.0,223.3 570.8,235.8 565.4,239.4 570.8,253.7 574.4,268.0 578.0,282.3 581.5,287.7 569.0,294.8 558.3,300.2 565.4,307.4 572.6,316.3 586.9,328.8 597.6,341.4 604.8,357.5 608.4,375.3 608.4,390.7 606.6,390.4 606.6,404.7 610.2,419.0 606.6,429.8 599.4,438.7 592.3,449.4 597.6,456.6 594.1,467.3 583.3,476.3 574.4,487.0 567.2,501.3 563.7,513.8 556.5,515.6 549.3,519.2 554.7,526.4 547.6,535.3 536.8,544.2 526.1,549.6 515.4,555.0 504.6,558.5 493.9,556.8 483.2,558.5 472.4,562.1 461.7,563.9 451.0,565.7 440.2,563.9 429.5,563.9 425.9,556.8 415.2,560.3 404.5,556.8 397.3,553.2 397.3,544.2 402.7,533.5 408.0,519.2 408.0,501.3 404.5,487.0 395.5,483.4 400.9,479.8 402.7,469.1 397.3,454.8 386.6,440.5 375.8,433.3 365.1,422.6 350.8,410.1 353.5,411.9 342.8,408.3 339.2,419.0 332.1,433.3 324.9,445.9 316.0,447.6 317.7,465.5 319.5,476.3 317.7,487.0 310.6,483.4 303.4,478.1 296.3,483.4 285.5,483.4 271.2,479.8 258.7,476.3 255.1,465.5 249.8,454.8 235.5,456.6 224.7,460.2 226.5,453.0 221.2,444.1 228.3,435.1 222.9,426.2 214.0,422.6 217.6,415.5 212.2,404.7 206.8,395.8 197.9,401.1 192.5,390.4 187.2,397.6 183.6,386.8 187.2,376.1 187.2,384.3 189.0,375.3 190.7,361.0 192.5,346.7 193.6,345.6 197.1,332.9 194.8,325.8 203.1,321.0 204.3,311.5 203.1,300.8 194.8,294.8 182.8,292.4 170.9,293.6 161.4,297.2 168.5,292.4 172.1,287.7 166.2,281.7 159.0,279.3 153.1,280.5 151.9,286.5 145.9,284.1 143.5,276.9 149.5,272.2 144.7,266.2 140.0,259.1 136.4,254.3 130.4,253.1 128.0,247.1 131.6,240.0 134.0,230.5 132.8,220.9 135.2,212.6" fill="none" stroke="#000" stroke-width="3.7" stroke-linejoin="round"/>
<polyline points="120.9,213.8 119.7,229.3" fill="none" stroke="#000" stroke-width="3.7" stroke-linecap="round" stroke-linejoin="round"/>
<ellipse cx="147" cy="153.5" rx="4.2" ry="2.6" fill="#000" transform="rotate(-15 147 153.5)"/>
<polyline points="163.8,300.8 173.3,300.8 182.8,299.6 192.4,301.9 197.1,309.1 194.8,318.6 187.6,319.8" fill="none" stroke="#000" stroke-width="3.7" stroke-linecap="round" stroke-linejoin="round"/>
<polyline points="166.2,311.5 170.9,307.9 175.7,310.3 179.3,304.3 181.7,311.5 178.1,318.6 170.9,319.8 166.6,315.1 166.2,311.5" fill="none" stroke="#000" stroke-width="3.7" stroke-linecap="round" stroke-linejoin="round"/>
<polyline points="332.1,463.7 335.6,462.0 336.3,469.8 332.8,474.5 330.6,469.8 332.1,463.7" fill="none" stroke="#000" stroke-width="3.7" stroke-linecap="round" stroke-linejoin="round"/>
<polyline points="390.9,491.3 395.9,490.6 396.6,494.2 391.6,494.2" fill="none" stroke="#000" stroke-width="3.7" stroke-linecap="round" stroke-linejoin="round"/>
</g>
<circle cx="366.5" cy="366.5" r="366.5" fill="none" stroke="#111" stroke-width="2.4"/>
</svg>
<svg style="position:absolute;left:0;top:0;will-change:transform;opacity:0.999" width="733" height="789" viewBox="0 0 733 789">
<text x="320.7" y="40.3" font-size="23.5" font-weight="bold" fill="#000" textLength="50.5" lengthAdjust="spacingAndGlyphs">ANN</text>
<text x="84.5" y="62.6" font-size="13.0" font-weight="bold" fill="#000" textLength="258.1" lengthAdjust="spacingAndGlyphs">f.e13.FC5.f19_f19.rrtmglim.002 (yrs 2-6)</text>
<text x="350.5" y="62.6" font-size="13.0" font-weight="bold" fill="#000" textLength="253.8" lengthAdjust="spacingAndGlyphs">f.e13.FC5.f19_f19.rrtmgctl.002 (yrs 2-6)</text>
<text x="141.5" y="472.2" font-size="13.0" font-weight="bold" fill="#000" textLength="408.5" lengthAdjust="spacingAndGlyphs">f.e13.FC5.f19_f19.rrtmglim.002 - f.e13.FC5.f19_f19.rrtmgctl.002</text>
<text x="88.4" y="103.5" font-size="13" fill="#3a3a3a" text-anchor="start" textLength="30.2" lengthAdjust="spacing" >Total</text>
<text x="126.6" y="103.5" font-size="13" fill="#3a3a3a" text-anchor="start" textLength="19.5" lengthAdjust="spacing" >grd</text>
<text x="159.7" y="103.5" font-size="13" fill="#3a3a3a" text-anchor="start" textLength="21.3" lengthAdjust="spacing" >box</text>
<text x="189.2" y="103.5" font-size="13" fill="#3a3a3a" text-anchor="start" textLength="34.3" lengthAdjust="spacing" >cloud</text>
<text x="231.6" y="103.5" font-size="13" fill="#3a3a3a" text-anchor="start" textLength="20.3" lengthAdjust="spacingAndGlyphs" >IWP</text>
<line x1="148.7" y1="99.9" x2="159.4" y2="99.9" stroke="#3a3a3a" stroke-width="1"/>
<text x="305.7" y="103.5" font-size="13" fill="#3a3a3a" text-anchor="start" textLength="28.4" lengthAdjust="spacing" >g/m</text>
<text x="335.5" y="97.9" font-size="7.8" fill="#3a3a3a" text-anchor="start" textLength="4.5" lengthAdjust="spacingAndGlyphs" >2</text>
<text x="351.6" y="103.5" font-size="13" fill="#3a3a3a" text-anchor="start" textLength="30.2" lengthAdjust="spacing" >Total</text>
<text x="389.8" y="103.5" font-size="13" fill="#3a3a3a" text-anchor="start" textLength="19.5" lengthAdjust="spacing" >grd</text>
<text x="422.9" y="103.5" font-size="13" fill="#3a3a3a" text-anchor="start" textLength="21.3" lengthAdjust="spacing" >box</text>
<text x="452.4" y="103.5" font-size="13" fill="#3a3a3a" text-anchor="start" textLength="34.3" lengthAdjust="spacing" >cloud</text>
<text x="494.8" y="103.5" font-size="13" fill="#3a3a3a" text-anchor="start" textLength="20.3" lengthAdjust="spacingAndGlyphs" >IWP</text>
<line x1="411.9" y1="99.9" x2="422.6" y2="99.9" stroke="#3a3a3a" stroke-width="1"/>
<text x="568.9" y="103.5" font-size="13" fill="#3a3a3a" text-anchor="start" textLength="28.4" lengthAdjust="spacing" >g/m</text>
<text x="598.7" y="97.9" font-size="7.8" fill="#3a3a3a" text-anchor="start" textLength="4.5" lengthAdjust="spacingAndGlyphs" >2</text>
<text x="220.3" y="513.6" font-size="13" fill="#3a3a3a" text-anchor="start" textLength="30.2" lengthAdjust="spacing" >Total</text>
<text x="258.5" y="513.6" font-size="13" fill="#3a3a3a" text-anchor="start" textLength="19.5" lengthAdjust="spacing" >grd</text>
<text x="291.6" y="513.6" font-size="13" fill="#3a3a3a" text-anchor="start" textLength="21.3" lengthAdjust="spacing" >box</text>
<text x="321.1" y="513.6" font-size="13" fill="#3a3a3a" text-anchor="start" textLength="34.3" lengthAdjust="spacing" >cloud</text>
<text x="363.5" y="513.6" font-size="13" fill="#3a3a3a" text-anchor="start" textLength="20.3" lengthAdjust="spacingAndGlyphs" >IWP</text>
<line x1="280.6" y1="510.0" x2="291.3" y2="510.0" stroke="#3a3a3a" stroke-width="1"/>
<text x="437.2" y="513.6" font-size="13" fill="#3a3a3a" text-anchor="start" textLength="28.4" lengthAdjust="spacing" >g/m</text>
<text x="467.0" y="508.0" font-size="7.8" fill="#3a3a3a" text-anchor="start" textLength="4.5" lengthAdjust="spacingAndGlyphs" >2</text>
<text x="92.6" y="401.0" font-size="10.2" fill="#3a3a3a" text-anchor="start" textLength="37.4" lengthAdjust="spacing" >MEAN=</text>
<text x="141.4" y="401.0" font-size="10.2" fill="#3a3a3a" text-anchor="start" textLength="31.0" lengthAdjust="spacing" >21.40</text>
<text x="183.8" y="401.0" font-size="10.2" fill="#3a3a3a" text-anchor="start" textLength="26.8" lengthAdjust="spacing" >Min=</text>
<text x="227.4" y="401.0" font-size="10.2" fill="#3a3a3a" text-anchor="start" textLength="25.2" lengthAdjust="spacing" >0.91</text>
<text x="263.7" y="401.0" font-size="10.2" fill="#3a3a3a" text-anchor="start" textLength="27.8" lengthAdjust="spacing" >Max=</text>
<text x="304.9" y="401.0" font-size="10.2" fill="#3a3a3a" text-anchor="start" textLength="30.6" lengthAdjust="spacing" >63.13</text>
<text x="355.2" y="401.0" font-size="10.2" fill="#3a3a3a" text-anchor="start" textLength="37.4" lengthAdjust="spacing" >MEAN=</text>
<text x="404.0" y="401.0" font-size="10.2" fill="#3a3a3a" text-anchor="start" textLength="31.0" lengthAdjust="spacing" >21.15</text>
<text x="446.4" y="401.0" font-size="10.2" fill="#3a3a3a" text-anchor="start" textLength="26.8" lengthAdjust="spacing" >Min=</text>
<text x="490.0" y="401.0" font-size="10.2" fill="#3a3a3a" text-anchor="start" textLength="25.2" lengthAdjust="spacing" >0.87</text>
<text x="526.3" y="401.0" font-size="10.2" fill="#3a3a3a" text-anchor="start" textLength="27.8" lengthAdjust="spacing" >Max=</text>
<text x="567.5" y="401.0" font-size="10.2" fill="#3a3a3a" text-anchor="start" textLength="30.6" lengthAdjust="spacing" >62.44</text>
<rect x="91.70" y="409.30" width="15.29" height="12.40" fill="#00008F" stroke="#111" stroke-width="0.9"/>
<rect x="106.99" y="409.30" width="15.29" height="12.40" fill="#0020B8" stroke="#111" stroke-width="0.9"/>
<rect x="122.28" y="409.30" width="15.29" height="12.40" fill="#0030DC" stroke="#111" stroke-width="0.9"/>
<rect x="137.56" y="409.30" width="15.29" height="12.40" fill="#1E50FF" stroke="#111" stroke-width="0.9"/>
<rect x="152.85" y="409.30" width="15.29" height="12.40" fill="#4678FF" stroke="#111" stroke-width="0.9"/>
<rect x="168.14" y="409.30" width="15.29" height="12.40" fill="#82A5FF" stroke="#111" stroke-width="0.9"/>
<rect x="183.43" y="409.30" width="15.29" height="12.40" fill="#B4CDFF" stroke="#111" stroke-width="0.9"/>
<rect x="198.71" y="409.30" width="15.29" height="12.40" fill="#D7EBFF" stroke="#111" stroke-width="0.9"/>
<rect x="214.00" y="409.30" width="15.29" height="12.40" fill="#FFE8D7" stroke="#111" stroke-width="0.9"/>
<rect x="229.29" y="409.30" width="15.29" height="12.40" fill="#FFCDB4" stroke="#111" stroke-width="0.9"/>
<rect x="244.57" y="409.30" width="15.29" height="12.40" fill="#FFA582" stroke="#111" stroke-width="0.9"/>
<rect x="259.86" y="409.30" width="15.29" height="12.40" fill="#FF7846" stroke="#111" stroke-width="0.9"/>
<rect x="275.15" y="409.30" width="15.29" height="12.40" fill="#FF501E" stroke="#111" stroke-width="0.9"/>
<rect x="290.44" y="409.30" width="15.29" height="12.40" fill="#E63200" stroke="#111" stroke-width="0.9"/>
<rect x="305.73" y="409.30" width="15.29" height="12.40" fill="#BE2308" stroke="#111" stroke-width="0.9"/>
<rect x="321.01" y="409.30" width="15.29" height="12.40" fill="#8C0000" stroke="#111" stroke-width="0.9"/>
<text x="107.0" y="435.2" font-size="10.2" fill="#3a3a3a" text-anchor="middle" letter-spacing="0.5">1</text>
<text x="137.6" y="435.2" font-size="10.2" fill="#3a3a3a" text-anchor="middle" letter-spacing="0.5">10</text>
<text x="168.1" y="435.2" font-size="10.2" fill="#3a3a3a" text-anchor="middle" letter-spacing="0.5">20</text>
<text x="198.7" y="435.2" font-size="10.2" fill="#3a3a3a" text-anchor="middle" letter-spacing="0.5">30</text>
<text x="229.3" y="435.2" font-size="10.2" fill="#3a3a3a" text-anchor="middle" letter-spacing="0.5">40</text>
<text x="259.9" y="435.2" font-size="10.2" fill="#3a3a3a" text-anchor="middle" letter-spacing="0.5">50</text>
<text x="290.4" y="435.2" font-size="10.2" fill="#3a3a3a" text-anchor="middle" letter-spacing="0.5">60</text>
<text x="321.0" y="435.2" font-size="10.2" fill="#3a3a3a" text-anchor="middle" letter-spacing="0.5">80</text>
<rect x="354.70" y="409.30" width="15.29" height="12.40" fill="#00008F" stroke="#111" stroke-width="0.9"/>
<rect x="369.99" y="409.30" width="15.29" height="12.40" fill="#0020B8" stroke="#111" stroke-width="0.9"/>
<rect x="385.27" y="409.30" width="15.29" height="12.40" fill="#0030DC" stroke="#111" stroke-width="0.9"/>
<rect x="400.56" y="409.30" width="15.29" height="12.40" fill="#1E50FF" stroke="#111" stroke-width="0.9"/>
<rect x="415.85" y="409.30" width="15.29" height="12.40" fill="#4678FF" stroke="#111" stroke-width="0.9"/>
<rect x="431.14" y="409.30" width="15.29" height="12.40" fill="#82A5FF" stroke="#111" stroke-width="0.9"/>
<rect x="446.42" y="409.30" width="15.29" height="12.40" fill="#B4CDFF" stroke="#111" stroke-width="0.9"/>
<rect x="461.71" y="409.30" width="15.29" height="12.40" fill="#D7EBFF" stroke="#111" stroke-width="0.9"/>
<rect x="477.00" y="409.30" width="15.29" height="12.40" fill="#FFE8D7" stroke="#111" stroke-width="0.9"/>
<rect x="492.29" y="409.30" width="15.29" height="12.40" fill="#FFCDB4" stroke="#111" stroke-width="0.9"/>
<rect x="507.57" y="409.30" width="15.29" height="12.40" fill="#FFA582" stroke="#111" stroke-width="0.9"/>
<rect x="522.86" y="409.30" width="15.29" height="12.40" fill="#FF7846" stroke="#111" stroke-width="0.9"/>
<rect x="538.15" y="409.30" width="15.29" height="12.40" fill="#FF501E" stroke="#111" stroke-width="0.9"/>
<rect x="553.44" y="409.30" width="15.29" height="12.40" fill="#E63200" stroke="#111" stroke-width="0.9"/>
<rect x="568.73" y="409.30" width="15.29" height="12.40" fill="#BE2308" stroke="#111" stroke-width="0.9"/>
<rect x="584.01" y="409.30" width="15.29" height="12.40" fill="#8C0000" stroke="#111" stroke-width="0.9"/>
<text x="370.0" y="435.2" font-size="10.2" fill="#3a3a3a" text-anchor="middle" letter-spacing="0.5">1</text>
<text x="400.6" y="435.2" font-size="10.2" fill="#3a3a3a" text-anchor="middle" letter-spacing="0.5">10</text>
<text x="431.1" y="435.2" font-size="10.2" fill="#3a3a3a" text-anchor="middle" letter-spacing="0.5">20</text>
<text x="461.7" y="435.2" font-size="10.2" fill="#3a3a3a" text-anchor="middle" letter-spacing="0.5">30</text>
<text x="492.3" y="435.2" font-size="10.2" fill="#3a3a3a" text-anchor="middle" letter-spacing="0.5">40</text>
<text x="522.9" y="435.2" font-size="10.2" fill="#3a3a3a" text-anchor="middle" letter-spacing="0.5">50</text>
<text x="553.4" y="435.2" font-size="10.2" fill="#3a3a3a" text-anchor="middle" letter-spacing="0.5">60</text>
<text x="584.0" y="435.2" font-size="10.2" fill="#3a3a3a" text-anchor="middle" letter-spacing="0.5">80</text>
<rect x="539.40" y="578.00" width="29.00" height="12.68" fill="#8C0000" stroke="#111" stroke-width="0.9"/>
<rect x="539.40" y="590.68" width="29.00" height="12.68" fill="#BE2308" stroke="#111" stroke-width="0.9"/>
<rect x="539.40" y="603.36" width="29.00" height="12.68" fill="#E63200" stroke="#111" stroke-width="0.9"/>
<rect x="539.40" y="616.04" width="29.00" height="12.68" fill="#FF501E" stroke="#111" stroke-width="0.9"/>
<rect x="539.40" y="628.73" width="29.00" height="12.68" fill="#FF7846" stroke="#111" stroke-width="0.9"/>
<rect x="539.40" y="641.41" width="29.00" height="12.68" fill="#FFA582" stroke="#111" stroke-width="0.9"/>
<rect x="539.40" y="654.09" width="29.00" height="12.68" fill="#FFCDB4" stroke="#111" stroke-width="0.9"/>
<rect x="539.40" y="666.77" width="29.00" height="12.68" fill="#FFE8D7" stroke="#111" stroke-width="0.9"/>
<rect x="539.40" y="679.45" width="29.00" height="12.68" fill="#D7EBFF" stroke="#111" stroke-width="0.9"/>
<rect x="539.40" y="692.13" width="29.00" height="12.68" fill="#B4CDFF" stroke="#111" stroke-width="0.9"/>
<rect x="539.40" y="704.81" width="29.00" height="12.68" fill="#82A5FF" stroke="#111" stroke-width="0.9"/>
<rect x="539.40" y="717.49" width="29.00" height="12.68" fill="#4678FF" stroke="#111" stroke-width="0.9"/>
<rect x="539.40" y="730.17" width="29.00" height="12.68" fill="#1E50FF" stroke="#111" stroke-width="0.9"/>
<rect x="539.40" y="742.86" width="29.00" height="12.68" fill="#0030DC" stroke="#111" stroke-width="0.9"/>
<rect x="539.40" y="755.54" width="29.00" height="12.68" fill="#0020B8" stroke="#111" stroke-width="0.9"/>
<rect x="539.40" y="768.22" width="29.00" height="12.68" fill="#00008F" stroke="#111" stroke-width="0.9"/>
<text x="582.2" y="594.5" font-size="10.8" fill="#3a3a3a" text-anchor="middle" letter-spacing="0.5">15</text>
<text x="582.2" y="607.2" font-size="10.8" fill="#3a3a3a" text-anchor="middle" letter-spacing="0.5">12</text>
<text x="582.2" y="619.8" font-size="10.8" fill="#3a3a3a" text-anchor="middle" letter-spacing="0.5">9</text>
<text x="582.2" y="632.5" font-size="10.8" fill="#3a3a3a" text-anchor="middle" letter-spacing="0.5">7</text>
<text x="582.2" y="645.2" font-size="10.8" fill="#3a3a3a" text-anchor="middle" letter-spacing="0.5">5</text>
<text x="582.2" y="657.9" font-size="10.8" fill="#3a3a3a" text-anchor="middle" letter-spacing="0.5">3</text>
<text x="582.2" y="670.6" font-size="10.8" fill="#3a3a3a" text-anchor="middle" letter-spacing="0.5">1</text>
<text x="582.2" y="683.2" font-size="10.8" fill="#3a3a3a" text-anchor="middle" letter-spacing="0.5">0</text>
<text x="582.2" y="695.9" font-size="10.8" fill="#3a3a3a" text-anchor="middle" letter-spacing="0.5">&#8722;1</text>
<text x="582.2" y="708.6" font-size="10.8" fill="#3a3a3a" text-anchor="middle" letter-spacing="0.5">&#8722;3</text>
<text x="582.2" y="721.3" font-size="10.8" fill="#3a3a3a" text-anchor="middle" letter-spacing="0.5">&#8722;5</text>
<text x="582.2" y="734.0" font-size="10.8" fill="#3a3a3a" text-anchor="middle" letter-spacing="0.5">&#8722;7</text>
<text x="582.2" y="746.7" font-size="10.8" fill="#3a3a3a" text-anchor="middle" letter-spacing="0.5">&#8722;9</text>
<text x="582.2" y="759.3" font-size="10.8" fill="#3a3a3a" text-anchor="middle" letter-spacing="0.5">&#8722;12</text>
<text x="582.2" y="772.0" font-size="10.8" fill="#3a3a3a" text-anchor="middle" letter-spacing="0.5">&#8722;15</text>
<text x="486.1" y="556.6" font-size="11.2" fill="#3a3a3a" text-anchor="start" textLength="17.2" lengthAdjust="spacingAndGlyphs" >MIN</text>
<text x="510.0" y="556.6" font-size="11.2" fill="#3a3a3a" text-anchor="start" textLength="8.0" lengthAdjust="spacingAndGlyphs" >=</text>
<text x="530.3" y="556.6" font-size="11.2" fill="#3a3a3a" text-anchor="start" textLength="32.0" lengthAdjust="spacingAndGlyphs" >&#8722;3.78</text>
<text x="568.9" y="556.6" font-size="11.2" fill="#3a3a3a" text-anchor="start" textLength="19.1" lengthAdjust="spacingAndGlyphs" >MAX</text>
<text x="597.4" y="556.6" font-size="11.2" fill="#3a3a3a" text-anchor="start" textLength="7.1" lengthAdjust="spacingAndGlyphs" >=</text>
<text x="622.0" y="556.6" font-size="11.2" fill="#3a3a3a" text-anchor="start" textLength="23.0" lengthAdjust="spacingAndGlyphs" >5.24</text>
</svg>
</body></html>
